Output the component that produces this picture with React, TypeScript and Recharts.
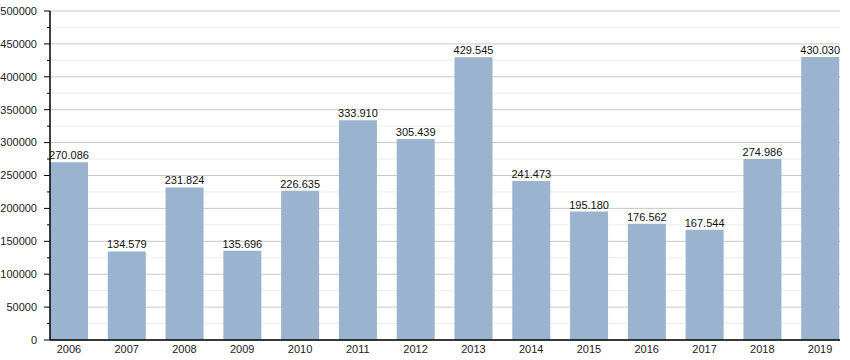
import React from 'react';
import { BarChart, Bar, XAxis, YAxis, CartesianGrid, LabelList } from 'recharts';

const years = ['2006', '2007', '2008', '2009', '2010', '2011', '2012', '2013', '2014', '2015', '2016', '2017', '2018', '2019'];
const values = [270086, 134579, 231824, 135696, 226635, 333910, 305439, 429545, 241473, 195180, 176562, 167544, 274986, 430030];
const yTicks = [0, 25000, 50000, 75000, 100000, 125000, 150000, 175000, 200000, 225000, 250000, 275000, 300000, 325000, 350000, 375000, 400000, 425000, 450000, 475000, 500000];

const data = years.map((y, i) => ({ year: y, value: values[i] }));

const FONT = '"Liberation Sans", Arial, sans-serif';

const fmt = (v: number) => v.toLocaleString('de-DE');

const YTick = (props: any) => {
  const { x, y, payload } = props;
  const v = payload.value as number;
  const major = v % 50000 === 0;
  const ax = x + 10; // axis line position (tickMargin offset)
  return (
    <g>
      <line x1={major ? ax - 6 : ax - 3} x2={ax} y1={y} y2={y} stroke="#000" strokeWidth={1} />
      {major && (
        <text x={ax - 13} y={y} dy="0.35em" textAnchor="end" fontSize={11} fill="#222" fontFamily={FONT}>
          {v}
        </text>
      )}
    </g>
  );
};

const gridLine = (props: any) => {
  const { x1, x2, y1, y2, index } = props;
  const major = index % 2 === 0;
  return (
    <line
      key={`g-${index}`}
      x1={x1}
      x2={x2}
      y1={y1}
      y2={y2}
      stroke={major ? '#c8c8c8' : '#ececec'}
      strokeWidth={1}
    />
  );
};

export default function App() {
  return (
    <div style={{ position: 'absolute', left: 0, top: 0, width: 850, height: 360, background: '#fff' }}>
      <BarChart
        width={850}
        height={360}
        data={data}
        margin={{ top: 11, right: 10, bottom: 0, left: 0 }}
      >
        <CartesianGrid vertical={false} horizontal={gridLine} />
        <XAxis
          dataKey="year"
          height={20}
          padding={{ left: -10, right: -9 }}
          tickLine={false}
          tickSize={0}
          tickMargin={5}
          axisLine={{ stroke: '#000', strokeWidth: 1.5 }}
          tick={{ fontSize: 11, fill: '#222', fontFamily: FONT }}
          interval={0}
        />
        <YAxis
          width={50}
          domain={[0, 500000]}
          ticks={yTicks}
          interval={0}
          tickLine={false}
          tickSize={0}
          tickMargin={10}
          axisLine={{ stroke: '#000', strokeWidth: 1.5 }}
          tick={<YTick />}
        />
        <Bar dataKey="value" fill="#9ab3ce" barSize={38} isAnimationActive={false}>
          <LabelList
            dataKey="value"
            position="top"
            offset={3}
            formatter={(v: any) => fmt(Number(v))}
            style={{ fontSize: 11, fill: '#111', fontFamily: FONT }}
          />
        </Bar>
      </BarChart>
    </div>
  );
}
